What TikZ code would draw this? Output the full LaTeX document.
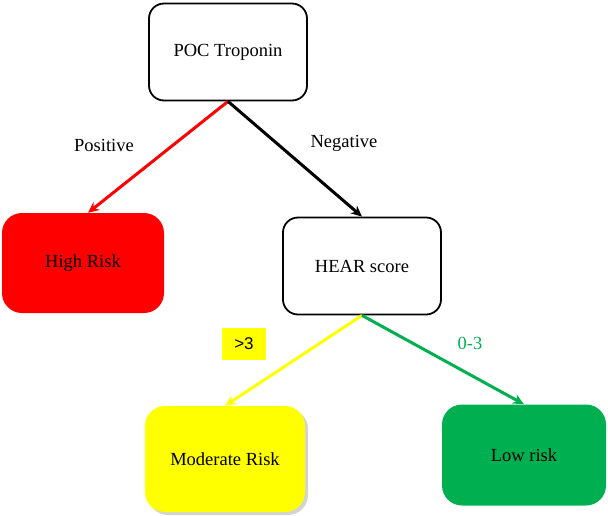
\documentclass[tikz,border=0pt]{standalone}
\usepackage{fontspec}
\setmainfont{Liberation Serif}
\newfontfamily\arialf{Liberation Sans}
\usetikzlibrary{arrows.meta,shadows}
\definecolor{xred}{RGB}{255,0,0}
\definecolor{xyellow}{RGB}{255,255,0}
\definecolor{xgreen}{RGB}{0,176,80}
\begin{document}
\begin{tikzpicture}[x=1pt,y=-1pt,
  txt/.style={font=\fontsize{18.5}{22}\selectfont},
  whitebox/.style={txt,draw=black,line width=1.8pt,rounded corners=15pt,minimum width=158pt,minimum height=97pt,fill=white},
  colbox/.style={txt,rounded corners=20pt,minimum width=162pt,minimum height=100pt},
  arr/.style={line width=3pt,-{Stealth[length=11pt,width=10pt]}}]
\useasboundingbox (0,0) rectangle (608,515);
\node[whitebox] (poc) at (228,52) {POC Troponin};
\node[colbox,fill=xred] (high) at (83,263) {High Risk};
\node[whitebox] (hear) at (362,266) {HEAR score};
\node[colbox,fill=xyellow,minimum width=160pt,minimum height=106pt,drop shadow={shadow xshift=3pt,shadow yshift=-3pt,opacity=0.35}] (mod) at (225,459) {Moderate Risk};
\node[colbox,fill=xgreen,minimum width=164pt,minimum height=101pt] (low) at (524,455) {Low risk};
\draw[arr,xred] (poc.south) -- (high.north -| 88,0);
\draw[arr,black] (poc.south) -- (hear.north);
\draw[arr,xyellow] (hear.south) -- (mod.north);
\draw[arr,xgreen] (hear.south) -- (low.north);
\node[txt] (pos) at (104,145) {Positive};
\node[txt] (neg) at (344,143) {Negative};
\node[fill=xyellow,minimum width=44pt,minimum height=32pt,font=\arialf\fontsize{17}{20}\selectfont] (gt) at (244,344) {>3};
\node[txt,text=xgreen] (zt) at (470,343) {0-3};
\end{tikzpicture}
\end{document}
